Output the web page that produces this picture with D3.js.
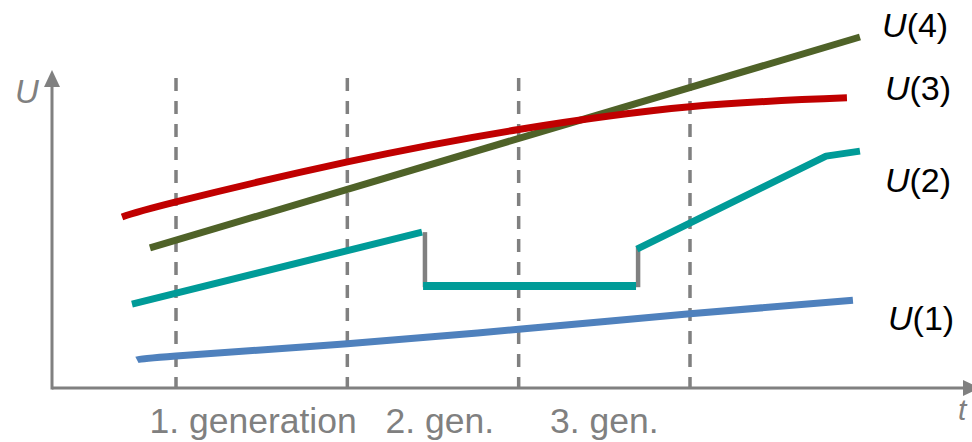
<!DOCTYPE html>
<html>
<head>
<meta charset="utf-8">
<script src="https://cdn.jsdelivr.net/npm/d3@7"></script>
<style>
  html, body { margin: 0; padding: 0; background: #fff; }
  svg { display: block; }
  text { font-family: "Liberation Sans", Arial, sans-serif; }
</style>
</head>
<body>
<script>
// ---- data (t in generations, U in arbitrary utility units 0..100) ----
const generationBounds = [1, 2, 3, 4];
const generationLabels = ["1. generation", "2. gen.", "3. gen."];
const generationLabelT = [1.45, 2.54, 3.5];

const u1 = [[0.772, 7.8], [1.0, 8.9], [2.0, 12.3], [3.0, 16.3], [4.0, 20.6], [4.951, 24.4]];
const u2a = [[0.743, 23.3], [2.436, 43.3]];
const u2flat = [[2.442, 28.3], [3.685, 28.3]];
const u2b = [[3.690, 38.6], [4.794, 64.4], [4.992, 65.8]];
const u2jumps = [[[2.453, 43.3], [2.453, 28.0]], [[3.697, 28.0], [3.697, 39.4]]];
const u3 = [[0.685, 47.5], [1.0, 51.7], [2.0, 62.8], [3.0, 71.8], [4.0, 78.1], [4.916, 80.6]];
const u4 = [[0.848, 38.9], [4.992, 97.5]];

const seriesNames = ["1", "2", "3", "4"];
const seriesLabelU = [16.1, 54.4, 80.0, 97.5];
const seriesLabelT = [5.156, 5.138, 5.138, 5.121];

const W = 972, H = 442;
const x = d3.scaleLinear().domain([1, 4]).range([176, 690]);
const y = d3.scaleLinear().domain([0, 100]).range([388, 28]);

const svg = d3.select("body").append("svg").attr("width", W).attr("height", H);
const gray = "#808080";

// axes
const x0 = 52, yAxis = 388;
svg.append("line").attr("x1", x0).attr("y1", yAxis + 1.5).attr("x2", x0).attr("y2", 84)
  .attr("stroke", gray).attr("stroke-width", 3);
svg.append("path").attr("d", `M${x0 - 8},87 L${x0},70 L${x0 + 8},87 Z`).attr("fill", gray);
svg.append("line").attr("x1", x0).attr("y1", yAxis).attr("x2", 966).attr("y2", yAxis)
  .attr("stroke", gray).attr("stroke-width", 3);
svg.append("path").attr("d", `M963,${yAxis - 8} L980,${yAxis} L963,${yAxis + 8} Z`).attr("fill", gray);

svg.append("text").attr("x", 15).attr("y", 103).attr("font-size", 33).attr("font-style", "italic")
  .attr("fill", gray).text("U");
svg.append("text").attr("x", 958).attr("y", 420).attr("font-size", 30).attr("font-style", "italic")
  .attr("fill", gray).text("t");

// dashed generation boundaries
svg.selectAll("line.gen").data(generationBounds).enter().append("line")
  .attr("class", "gen")
  .attr("x1", d => x(d)).attr("x2", d => x(d))
  .attr("y1", 78).attr("y2", yAxis)
  .attr("stroke", gray).attr("stroke-width", 3.5)
  .attr("stroke-dasharray", "13,10");

svg.selectAll("text.genlab").data(generationLabels).enter().append("text")
  .attr("class", "genlab")
  .attr("x", (d, i) => x(generationLabelT[i]))
  .attr("y", 433)
  .attr("text-anchor", "middle")
  .attr("font-size", 35.5)
  .attr("fill", gray)
  .text(d => d);

const line = d3.line().x(d => x(d[0])).y(d => y(d[1]));
const curve = d3.line().x(d => x(d[0])).y(d => y(d[1])).curve(d3.curveNatural);

function draw(data, gen, color, w) {
  svg.append("path").attr("d", gen(data)).attr("fill", "none")
    .attr("stroke", color).attr("stroke-width", w).attr("stroke-linecap", "butt")
    .attr("stroke-linejoin", "round");
}

// U(1)
draw(u1, curve, "#4F81BD", 7);
// U(2) with jumps
u2jumps.forEach(j => draw(j, line, gray, 4.5));
draw(u2a, line, "#009B98", 7);
draw(u2flat, line, "#009B98", 8);
draw(u2b, line, "#009B98", 7);
// U(4)
draw(u4, line, "#4F6228", 7);
// U(3)
draw(u3, curve, "#C00000", 7);

// series labels
seriesNames.forEach((n, i) => {
  const t = svg.append("text")
    .attr("x", x(seriesLabelT[i])).attr("y", y(seriesLabelU[i]))
    .attr("font-size", 34).attr("fill", "#000");
  t.append("tspan").attr("font-style", "italic").text("U");
  t.append("tspan").text("(" + n + ")");
});
</script>
</body>
</html>
